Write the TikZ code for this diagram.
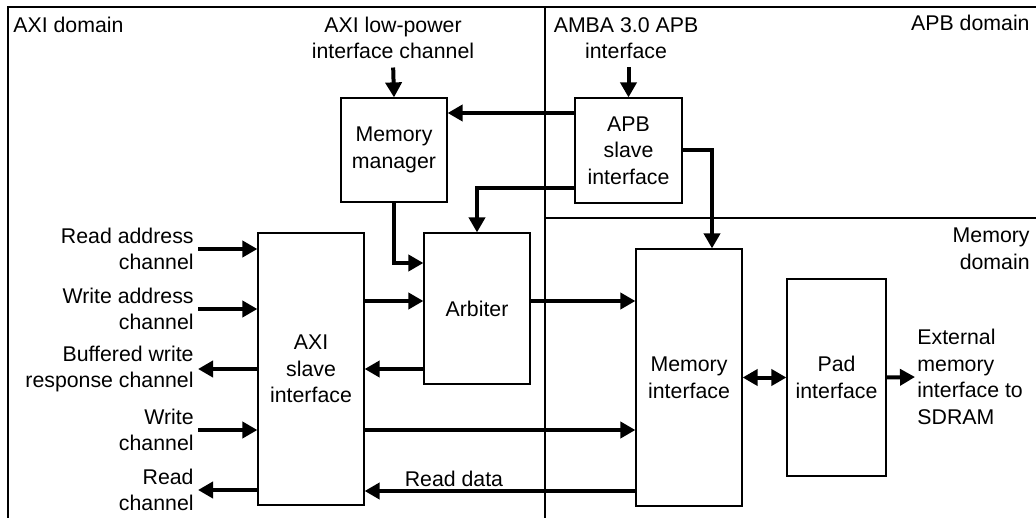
\documentclass[tikz,border=0pt]{standalone}
\usepackage{fontspec}
\setmainfont{Liberation Sans}
\usetikzlibrary{positioning, arrows.meta}

\tikzset{
  blk/.style={draw, line width=0.6pt, align=center, inner sep=0pt},
  lbl/.style={align=center, inner sep=1pt},
  fwd/.style={line width=2pt, -{Triangle[length=7.5pt,width=8pt]}},
  bwd/.style={line width=2pt, {Triangle[length=7.5pt,width=8pt]}-},
  both/.style={line width=2pt, {Triangle[length=7.5pt,width=8pt]}-{Triangle[length=7.5pt,width=8pt]}},
}

\begin{document}
\begin{tikzpicture}[x=0.5pt, y=-0.5pt, font=\fontsize{10.65pt}{13.3pt}\selectfont]
    \useasboundingbox (0,0) rectangle (1036,518);

    % domain borders
    \draw[line width=0.7pt] (8,518) -- (8,7) -- (1036,7);
    \draw[line width=0.7pt] (545,7) -- (545,518);
    \draw[line width=0.7pt] (545,218) -- (1036,218);
    \node[lbl, anchor=west] (axidom) at (11,25) {AXI domain};
    \node[lbl, anchor=east] (apbdom) at (1032,23) {APB domain};
    \node[lbl, anchor=east, align=right] (memdom) at (1032,249) {Memory\\domain};

    % blocks
    \node[blk, minimum width=53pt, minimum height=52pt] (mm) at (394,150) {Memory\\manager};
    \node[blk, minimum width=53.5pt, minimum height=52.5pt] (apb) at (628.5,150.5) {APB\\slave\\interface};
    \node[blk, minimum width=53pt, minimum height=136pt] (axi) at (311,369) {AXI\\slave\\interface};
    \node[blk, minimum width=53pt, minimum height=75.5pt] (arb) at (477,308.5) {Arbiter};
    \node[blk, minimum width=53pt, minimum height=128.5pt] (mi) at (689,377.5) {Memory\\interface};
    \node[blk, minimum width=49.5pt, minimum height=98.5pt] (pad) at (836.5,377.5) {Pad\\interface};

    % external interfaces
    \node[lbl] (lp) at (393,38) {AXI low-power\\interface channel};
    \node[lbl] (amba) at (626,38) {AMBA 3.0 APB\\interface};
    \node[lbl, anchor=west, align=left] (ext) at (915,377) {External\\memory\\interface to\\SDRAM};

    \foreach \y/\nm/\txt/\dir in {249/ra/{Read address\\channel}/fwd,
        309/wa/{Write address\\channel}/fwd,
        369/br/{Buffered write\\response channel}/bwd,
        430/wc/{Write\\channel}/fwd,
        490/rc/{Read\\channel}/bwd} {
      \node[lbl, anchor=east, align=right, inner sep=2pt] (\nm) at (198,\y) {\txt};
      \draw[\dir] (\nm.east) -- (\nm.east -| axi.west);
    }

    % connections
    \draw[fwd, shorten <=3pt] (lp.south) -- (mm.north);
    \draw[fwd, shorten <=3pt] (amba.south -| apb.north) -- (apb.north);
    \draw[fwd] (apb.west |- 0,113) -- (mm.east |- 0,113);
    \draw[fwd] (apb.west |- 0,188) -| (arb.north);
    \draw[fwd] (apb.east) -| (712,0 |- mi.north);
    \draw[fwd] (mm.south) |- (arb.west |- 0,263);
    \draw[fwd] (axi.east |- 0,301) -- (arb.west |- 0,301);
    \draw[fwd] (arb.west |- 0,369) -- (axi.east |- 0,369);
    \draw[fwd] (arb.east |- 0,301) -- (mi.west |- 0,301);
    \draw[fwd] (axi.east |- 0,430) -- (mi.west |- 0,430);
    \draw[fwd] (mi.west |- 0,491) -- node[lbl, above, pos=0.67] (rd) {Read data} (axi.east |- 0,491);
    \draw[both] (mi.east) -- (pad.west);
    \draw[fwd] (pad.east) -- (ext.west);
\end{tikzpicture}
\end{document}
